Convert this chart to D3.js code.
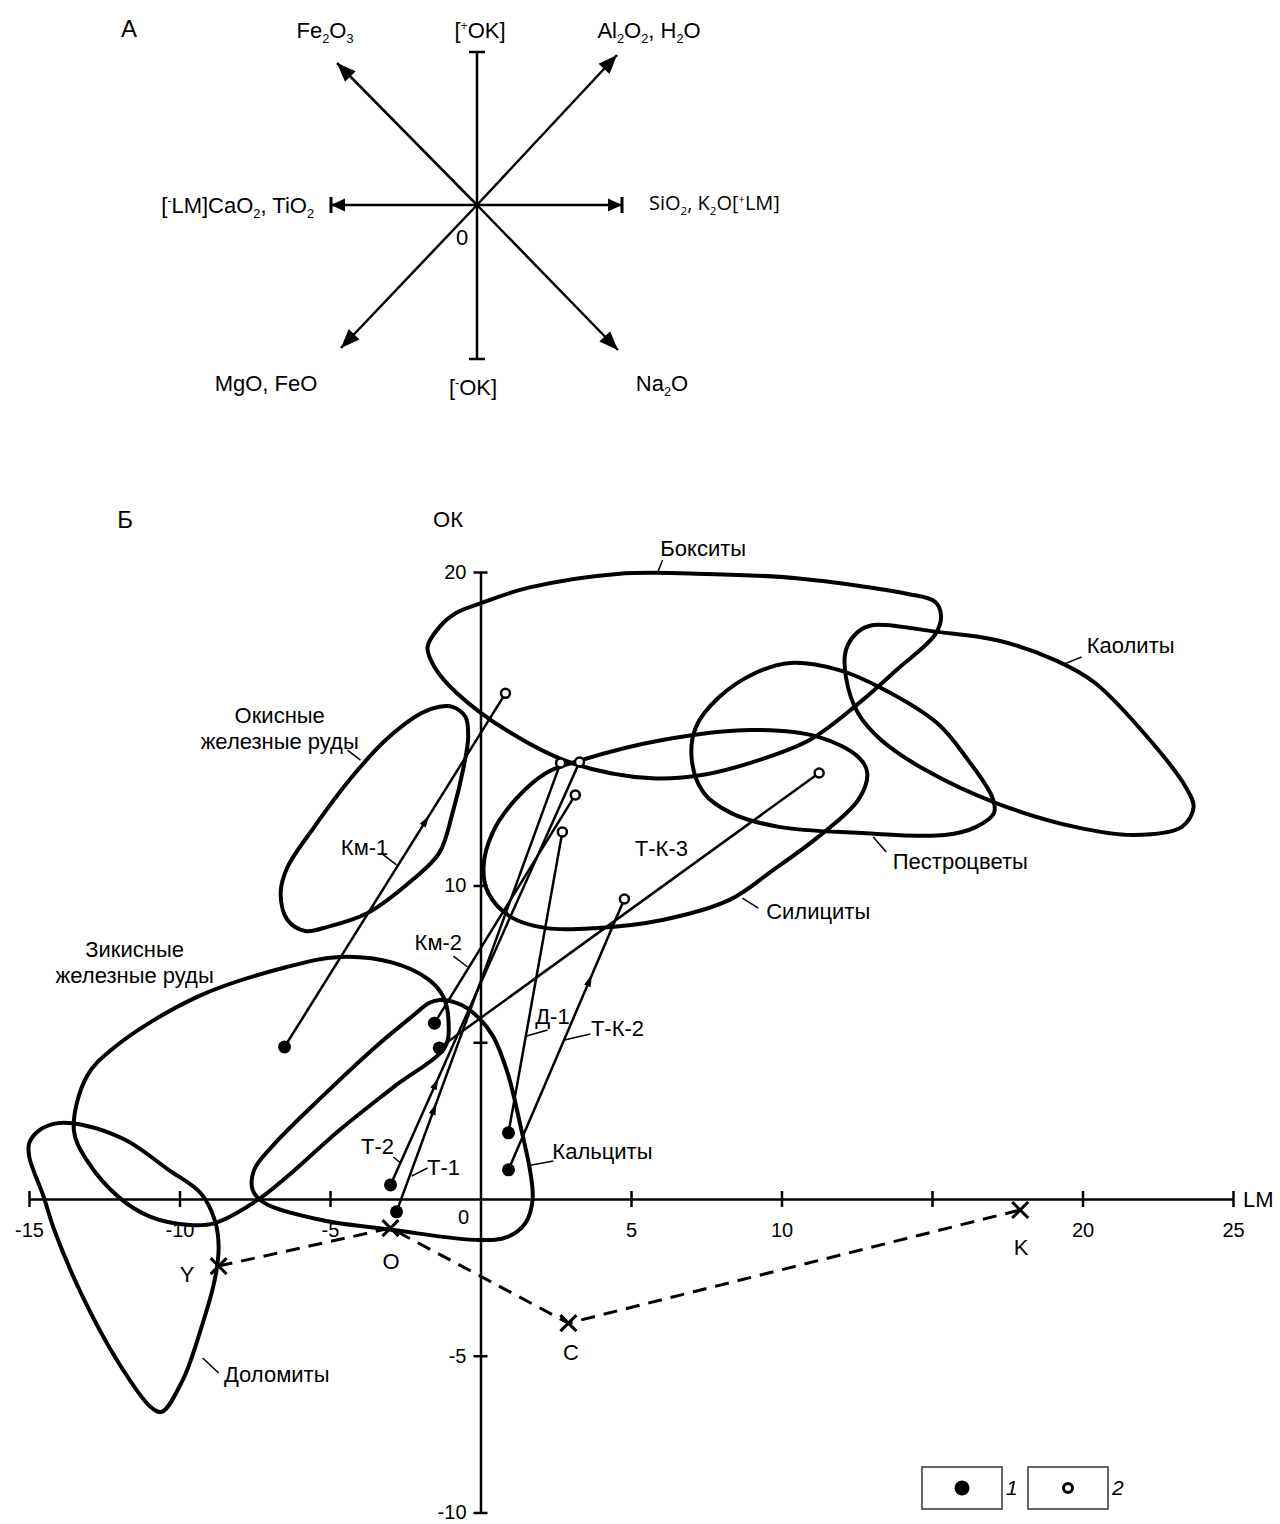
<!doctype html>
<html>
<head>
<meta charset="utf-8">
<style>
    body { margin: 0; background: #fff; }
    svg { display: block; font-family: Arial, 'Liberation Sans', sans-serif; }
    text { fill: #000; }
    .field { fill: none; stroke: #000; stroke-width: 4; stroke-linejoin: round; }
    .trend { stroke: #000; stroke-width: 2.5; }
    .leader { stroke: #000; stroke-width: 1.5; }
    .axis path, .axis line { stroke: #000; stroke-width: 2.5; }
    .ref-line { fill: none; stroke: #000; stroke-width: 3; stroke-dasharray: 14 9; }
    .cross { stroke: #000; stroke-width: 3; }
    .diag { stroke: #000; stroke-width: 2.5; fill: none; }
</style>
<script src="https://cdnjs.cloudflare.com/ajax/libs/d3/7.8.5/d3.min.js"></script>
</head>
<body>
<svg width="1280" height="1524"></svg>
<script>
// ---- fields (LM, OK) ----
const bauxite = [[-0.8,18.7],[0.0,19.0],[1.6,19.5],[4.55,19.94],[7.5,19.94],[10.5,19.8],[14.2,19.3],[15.1,19.05],[15.3,18.6],[15.1,18.0],[13.85,16.9],[12.55,15.8],[10.95,14.65],[9.25,14.0],[7.5,13.55],[5.7,13.42],[3.05,13.9],[1.0,14.87],[-0.8,16.15],[-1.53,16.97],[-1.76,17.6],[-1.36,18.25]];
const oxideOre = [[-1.37,15.7],[-0.93,15.7],[-0.5,15.38],[-0.41,14.74],[-0.56,13.78],[-0.93,12.31],[-1.37,11.04],[-2.26,10.18],[-3.75,9.12],[-5.08,8.68],[-5.82,8.55],[-6.41,8.9],[-6.64,9.76],[-6.41,10.59],[-5.52,11.87],[-4.35,13.37],[-3.15,14.64],[-1.96,15.5]];
const silicite = [[2.18,13.59],[3.35,14.0],[6.04,14.64],[9.0,14.96],[11.22,14.74],[12.55,14.1],[12.85,13.59],[12.55,12.73],[11.22,11.55],[9.73,10.5],[8.27,9.54],[6.04,8.9],[3.82,8.64],[2.19,8.64],[1.0,9.0],[0.26,9.76],[0.1,10.59],[0.4,11.68],[1.15,12.73]];
const variegated = [[10.29,17.1],[11.89,16.88],[13.31,16.3],[15.17,15.18],[16.2,14.0],[17.0,12.82],[17.06,12.31],[16.47,11.87],[15.42,11.61],[12.54,11.68],[9.91,11.87],[8.33,12.31],[7.42,12.95],[7.02,14.0],[7.16,15.06],[7.93,16.01],[9.13,16.78]];
const kaolinite = [[13.06,18.31],[15.16,18.09],[17.13,17.83],[19.09,17.19],[20.42,16.46],[22.24,14.64],[23.43,13.14],[23.69,12.5],[23.3,11.87],[21.71,11.61],[19.75,11.87],[17.13,12.63],[14.77,13.69],[13.31,14.64],[12.54,15.5],[12.14,16.65],[12.14,17.51],[12.54,18.09]];
const ferrousOre = [[-13.51,2.2],[-13.09,3.89],[-12.15,4.85],[-9.43,6.44],[-6.44,7.4],[-4.68,7.72],[-2.89,7.53],[-1.71,6.99],[-1.23,6.44],[-1.06,5.61],[-1.18,4.85],[-2.89,3.57],[-4.68,2.2],[-6.44,0.7],[-7.4,-0.03],[-8.83,-0.77],[-9.66,-0.83],[-10.96,-0.57],[-12.02,0.06],[-13.08,1.24]];
const calcite = [[-1.36,6.35],[-0.63,6.19],[-0.05,5.77],[0.43,5.17],[0.9,4.02],[1.36,2.2],[1.66,0.83],[1.73,-0.03],[1.49,-0.77],[0.9,-1.21],[-0.05,-1.31],[-2.89,-0.99],[-5.28,-0.67],[-7.17,-0.13],[-7.57,0.29],[-7.52,0.93],[-6.94,1.66],[-5.28,3.25],[-3.49,4.85],[-2.29,5.81],[-1.71,6.25]];
const dolomite = [[-14.99,1.79],[-14.65,2.2],[-14.04,2.42],[-13.21,2.36],[-11.79,1.88],[-10.36,0.93],[-9.3,0.19],[-8.83,-0.67],[-8.7,-1.53],[-8.83,-2.58],[-9.3,-4.18],[-9.89,-5.77],[-10.59,-6.79],[-10.96,-6.63],[-12.02,-5.23],[-13.21,-3.13],[-14.16,-0.99],[-14.51,0.06],[-14.99,1.34]];
const fields = [bauxite, oxideOre, silicite, variegated, kaolinite, ferrousOre, calcite, dolomite];

// ---- trends: filled start (1) -> open end (2) ----
const trendNames = ['Км-1', 'Км-2', 'Т-1', 'Т-2', 'Д-1', 'Т-К-2', 'Т-К-3'];
const startLM = [-6.51, -1.53, -2.79, -2.99, 0.93, 0.93, -1.37];
const startOK = [4.85, 5.61, -0.41, 0.45, 2.11, 0.93, 4.82];
const endLM = [0.83, 3.15, 2.66, 3.29, 2.72, 4.78, 11.25];
const endOK = [16.13, 12.89, 13.91, 13.94, 11.71, 9.57, 13.59];
const arrowAt = [0.64, null, 0.23, 0.24, null, 0.70, null];

// ---- reference points joined by dashed line ----
const refNames = ['Y', 'O', 'C', 'K'];
const refLM = [-8.7, -2.99, 2.92, 17.93];
const refOK = [-2.14, -0.93, -3.96, -0.35];

// ---- axes ----
const xTicks = [-15, -10, -5, 5, 10, 15, 20, 25];
const xLabels = [-15, -10, -5, 5, 10, 20, 25];
const yTicks = [-10, -5, 5, 10, 20];
const yLabels = [-10, -5, 10, 20];

const svg = d3.select('svg');

const defs = svg.append('defs');
defs.append('marker').attr('id', 'headA')
    .attr('markerUnits', 'userSpaceOnUse').attr('markerWidth', 26).attr('markerHeight', 26)
    .attr('viewBox', '-22 -12 26 24').attr('refX', 0).attr('refY', 0).attr('orient', 'auto')
    .append('path').attr('d', 'M0,0L-19,-7.5L-19,7.5Z').attr('fill', '#000');
const capHead = defs.append('marker').attr('id', 'capHead')
    .attr('markerUnits', 'userSpaceOnUse').attr('markerWidth', 26).attr('markerHeight', 26)
    .attr('viewBox', '-22 -12 26 24').attr('refX', 0).attr('refY', 0).attr('orient', 'auto');
capHead.append('path').attr('d', 'M0,0L-14,-6.5L-14,6.5Z').attr('fill', '#000');
capHead.append('line').attr('x1', 0).attr('x2', 0).attr('y1', -8).attr('y2', 8).attr('stroke', '#000').attr('stroke-width', 3);

// text with _x subscripts and ^x superscripts
function rich(g, str, x, y, size, anchor, family) {
    const t = g.append('text').attr('x', x).attr('y', y + size * 0.35)
        .attr('font-size', size).attr('text-anchor', anchor || 'middle');
    if (family) t.attr('font-family', family);
    let shift = 0;
    str.split(/([_^].)/).filter(s => s).forEach(p => {
        if (p[0] === '_') {
            t.append('tspan').attr('dy', size * 0.25 - shift).attr('font-size', size * 0.58).text(p[1]);
            shift = size * 0.25;
        } else if (p[0] === '^') {
            t.append('tspan').attr('dy', -size * 0.35 - shift).attr('font-size', size * 0.55).text(p[1]);
            shift = -size * 0.35;
        } else {
            t.append('tspan').attr('dy', -shift).text(p);
            shift = 0;
        }
    });
    return t;
}

// ================= Part A: scheme =================
const cx = 477, cy = 205;
const partA = svg.append('g');
rich(partA, 'А', 129, 29, 24);
partA.append('line').attr('class', 'diag').attr('x1', cx).attr('y1', 52).attr('x2', cx).attr('y2', 359);
[52, 359].forEach(yy => partA.append('line').attr('class', 'diag').attr('stroke-width', 3)
    .attr('x1', cx - 8).attr('x2', cx + 8).attr('y1', yy).attr('y2', yy));
[331, 622].forEach(xx => partA.append('line').attr('class', 'diag')
    .attr('x1', cx).attr('y1', cy).attr('x2', xx).attr('y2', cy).attr('marker-end', 'url(#capHead)'));
[[337, 63], [617, 55], [341, 348], [618, 350]].forEach(p => partA.append('line').attr('class', 'diag')
    .attr('x1', cx).attr('y1', cy).attr('x2', p[0]).attr('y2', p[1]).attr('marker-end', 'url(#headA)'));

rich(partA, 'Fe_2O_3', 325, 30, 22);
rich(partA, '[^+OK]', 480, 30, 22);
rich(partA, 'Al_2O_2, H_2O', 649, 30, 22);
rich(partA, '[^-LM]CaO_2, TiO_2', 314, 205, 22, 'end');
rich(partA, 'SiO_2, K_2O[^+LM]', 649, 203, 20, 'start', "'Open Sans', sans-serif");
rich(partA, '0', 462, 237, 22);
rich(partA, 'MgO, FeO', 266, 383, 22);
rich(partA, '[^-OK]', 473, 387, 22);
rich(partA, 'Na_2O', 662, 383, 22);

// ================= Part B: LM-OK diagram =================
const x = d3.scaleLinear().domain([-15, 25]).range([29, 1233]);
const y = d3.scaleLinear().domain([-10, 20]).range([1512.5, 572]);
const plot = svg.append('g');

rich(plot, 'Б', 125, 520, 24);

const xAxis = plot.append('g').attr('class', 'axis').attr('transform', `translate(0,${y(0)})`)
    .call(d3.axisBottom(x).tickValues(xTicks).tickSizeInner(8).tickSizeOuter(0)
        .tickFormat(d => xLabels.includes(d) ? String(d) : ''));
xAxis.attr('font-size', 20).attr('font-family', null);
xAxis.selectAll('.tick line').attr('y1', -8).attr('y2', 8);
xAxis.selectAll('.tick text').attr('y', 24);

const yAxis = plot.append('g').attr('class', 'axis').attr('transform', `translate(${x(0)},0)`)
    .call(d3.axisLeft(y).tickValues(yTicks).tickSizeInner(7).tickSizeOuter(0).tickPadding(7)
        .tickFormat(d => yLabels.includes(d) ? String(d) : ''));
yAxis.attr('font-size', 20).attr('font-family', null);
yAxis.selectAll('.tick line').attr('x1', 7);

plot.append('text').attr('x', x(0) - 17).attr('y', y(0) + 25).attr('font-size', 20)
    .attr('text-anchor', 'middle').text('0');
plot.append('text').attr('x', 448).attr('y', 527).attr('font-size', 22)
    .attr('text-anchor', 'middle').text('ОК');
plot.append('text').attr('x', x(25) + 10).attr('y', y(0) + 8).attr('font-size', 22).text('LM');

// fields
const fieldLine = d3.line().x(d => x(d[0])).y(d => y(d[1]))
    .curve(d3.curveCatmullRomClosed.alpha(0.5));
plot.selectAll('path.field').data(fields).join('path')
    .attr('class', 'field').attr('d', fieldLine);

// dashed reference path
const refPts = refNames.map((n, i) => [x(refLM[i]), y(refOK[i])]);
plot.append('path').attr('class', 'ref-line').attr('d', d3.line()(refPts));
refPts.forEach(p => {
    const s = 8;
    plot.append('path').attr('class', 'cross')
        .attr('d', `M${p[0] - s},${p[1] - s}L${p[0] + s},${p[1] + s}M${p[0] - s},${p[1] + s}L${p[0] + s},${p[1] - s}`);
});
const refLabelPos = [[187, 1274], [391, 1261], [571, 1352], [1021, 1247]];
refNames.forEach((n, i) => plot.append('text').attr('x', refLabelPos[i][0]).attr('y', refLabelPos[i][1] + 8)
    .attr('font-size', 22).attr('text-anchor', 'middle').text(n));

// trends
trendNames.forEach((n, i) => {
    const x1 = x(startLM[i]), y1 = y(startOK[i]), x2 = x(endLM[i]), y2 = y(endOK[i]);
    plot.append('line').attr('class', 'trend').attr('x1', x1).attr('y1', y1).attr('x2', x2).attr('y2', y2);
    if (arrowAt[i] !== null) {
        const t = arrowAt[i];
        const px = x1 + (x2 - x1) * t, py = y1 + (y2 - y1) * t;
        const ang = Math.atan2(y2 - y1, x2 - x1) * 180 / Math.PI;
        plot.append('path').attr('d', 'M6,0L-6,-3.5L-6,3.5Z').attr('fill', '#000')
            .attr('transform', `translate(${px},${py}) rotate(${ang})`);
    }
});
plot.selectAll('circle.start').data(trendNames).join('circle').attr('class', 'start')
    .attr('cx', (d, i) => x(startLM[i])).attr('cy', (d, i) => y(startOK[i])).attr('r', 6.5).attr('fill', '#000');
plot.selectAll('circle.end').data(trendNames).join('circle').attr('class', 'end')
    .attr('cx', (d, i) => x(endLM[i])).attr('cy', (d, i) => y(endOK[i])).attr('r', 4.5)
    .attr('fill', '#fff').attr('stroke', '#000').attr('stroke-width', 2.5);

// annotations: [lines of text, LM, OK of text centre, leader from, leader to]
const notes = [
    [['Бокситы'], 7.4, 20.74, [5.88, 19.97], [6.05, 20.38]],
    [['Каолиты'], 21.6, 17.67, [19.3, 17.03], [19.97, 17.29]],
    [['Пестроцветы'], 15.94, 10.75, [13.05, 11.55], [13.48, 11.07]],
    [['Силициты'], 11.22, 9.16, [8.7, 9.6], [9.23, 9.28]],
    [['Окисные', 'железные руды'], -6.67, 15.0, [-4.42, 14.32], [-3.99, 14.0]],
    [['Зикисные', 'железные руды'], -11.49, 7.55, null, null],
    [['Кальциты'], 4.05, 1.5, [1.66, 1.08], [2.42, 1.21]],
    [['Доломиты'], -6.77, -5.61, [-9.23, -5.07], [-8.7, -5.55]],
    [['Км-1'], -3.85, 11.2, [-3.31, 11.04], [-2.79, 10.66]],
    [['Км-2'], -1.4, 8.17, [-0.9, 7.75], [-0.43, 7.4]],
    [['Т-К-3'], 6.01, 11.17, null, null],
    [['Д-1'], 2.39, 5.81, [1.53, 5.2], [2.23, 5.39]],
    [['Т-К-2'], 4.55, 5.45, [2.79, 5.07], [3.65, 5.26]],
    [['Т-2'], -3.42, 1.66, [-2.89, 1.34], [-2.66, 1.15]],
    [['Т-1'], -1.23, 0.99, [-2.29, 0.73], [-1.76, 0.99]]
];
notes.forEach(nt => {
    const lines = nt[0], tx = x(nt[1]), ty = y(nt[2]);
    const t = plot.append('text').attr('x', tx).attr('font-size', 22).attr('text-anchor', 'middle')
        .attr('y', ty - (lines.length - 1) * 13 + 7.5);
    lines.forEach((l, k) => t.append('tspan').attr('x', tx).attr('dy', k ? 26 : 0).text(l));
    if (nt[3]) plot.append('line').attr('class', 'leader')
        .attr('x1', x(nt[3][0])).attr('y1', y(nt[3][1])).attr('x2', x(nt[4][0])).attr('y2', y(nt[4][1]));
});

// legend
const legend = svg.append('g');
[0, 1].forEach(k => {
    const bx = 922 + k * 106;
    legend.append('rect').attr('x', bx).attr('y', 1467).attr('width', 80).attr('height', 42)
        .attr('fill', 'none').attr('stroke', '#333').attr('stroke-width', 1.5);
    legend.append('text').attr('x', bx + 84).attr('y', 1495).attr('font-size', 21)
        .attr('font-style', 'italic').text(k + 1);
});
legend.append('circle').attr('cx', 962).attr('cy', 1488).attr('r', 7.5).attr('fill', '#000');
legend.append('circle').attr('cx', 1068).attr('cy', 1488).attr('r', 4.5)
    .attr('fill', '#fff').attr('stroke', '#000').attr('stroke-width', 3);
</script>
</body>
</html>
